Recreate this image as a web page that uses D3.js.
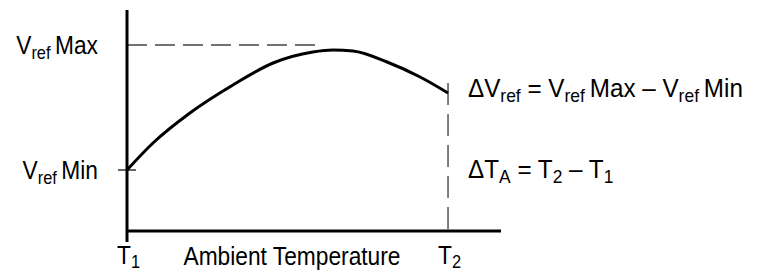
<!DOCTYPE html>
<html>
<head>
<meta charset="utf-8">
<script src="https://cdn.jsdelivr.net/npm/d3@7"></script>
<style>
  html, body { margin: 0; padding: 0; background: #fff; }
  svg { display: block; font-family: "Liberation Sans", Arial, Helvetica, sans-serif; }
</style>
</head>
<body>
<svg id="chart"></svg>
<script>
// curve: temperature in % of (T2 - T1), Vref in units of (Max - Min)
const tempPts = [0, 8.1, 19.6, 33, 45.5, 57.9, 64.2, 70.4, 81, 91.3, 100];
const vrefPts = [0, 0.216, 0.456, 0.68, 0.856, 0.944, 0.96, 0.952, 0.864, 0.744, 0.616];
const tempMarks = [{ v: 0, sub: "1" }, { v: 100, sub: "2" }];
const vrefMarks = [{ v: 0, name: "Min" }, { v: 1, name: "Max" }];
const xLabel = "Ambient Temperature";

const width = 760, height = 273;
const svg = d3.select("#chart").attr("width", width).attr("height", height);

const x = d3.scaleLinear().domain([0, 116.5]).range([127, 501]);
const y = d3.scaleLinear().domain([-0.488, 1.28]).range([231, 10]);

const fs = 25, subFs = 18, squeeze = 0.91;

// dashed guides
svg.append("line")
  .attr("x1", x(0)).attr("x2", 322)
  .attr("y1", y(1)).attr("y2", y(1))
  .attr("stroke", "#444").attr("stroke-width", 1.5)
  .attr("stroke-dasharray", "20,8");
svg.append("line")
  .attr("x1", x(100)).attr("x2", x(100))
  .attr("y1", y(vrefPts[vrefPts.length - 1]) - 10).attr("y2", y(-0.488))
  .attr("stroke", "#555").attr("stroke-width", 1.5)
  .attr("stroke-dasharray", "22,9");

// Vref Min tick
svg.append("line")
  .attr("x1", x(0) - 9).attr("x2", x(0) + 9)
  .attr("y1", y(0)).attr("y2", y(0))
  .attr("stroke", "#000").attr("stroke-width", 1.2);

// axes
svg.append("line")
  .attr("x1", x(0)).attr("x2", x(0))
  .attr("y1", y(1.28)).attr("y2", y(-0.488) + 11)
  .attr("stroke", "#000").attr("stroke-width", 3);
svg.append("line")
  .attr("x1", x(0)).attr("x2", x(116.5))
  .attr("y1", y(-0.488)).attr("y2", y(-0.488))
  .attr("stroke", "#000").attr("stroke-width", 3);

// curve
const line = d3.line()
  .x((d, i) => x(tempPts[i]))
  .y(d => y(d))
  .curve(d3.curveMonotoneX);
svg.append("path")
  .datum(vrefPts)
  .attr("d", line)
  .attr("fill", "none")
  .attr("stroke", "#000")
  .attr("stroke-width", 3);

// text placed at (px, py), slightly narrowed like the original face
function label(px, py, anchor, sq) {
  return svg.append("text")
    .attr("transform", `translate(${px},${py}) scale(${sq || squeeze},1)`)
    .attr("text-anchor", anchor || "start")
    .attr("font-size", fs);
}
function richText(sel, parts, subDy) {
  const d = subDy || 5;
  parts.forEach(p => {
    const t = sel.append("tspan").text(p[0]);
    if (p[1] === "sub") t.attr("font-size", subFs).attr("dy", d);
    else if (p[1] === "up") t.attr("dy", -d);
  });
}

// y labels
vrefMarks.forEach(m => {
  richText(label(x(0) - 29, y(m.v) + 9, "end"),
    [["V"], ["ref", "sub"], ["\u2009" + m.name, "up"]]);
});

// x labels
tempMarks.forEach(m => {
  richText(label(x(m.v) - 10, 264), [["T"], [m.sub, "sub"]], 4);
});
label(292, 265, "middle").text(xLabel);

// annotations
richText(label(468, 97, "start", 0.97),
  [["\u0394V"], ["ref", "sub"], [" = V", "up"], ["ref", "sub"], ["\u2009Max \u2013 V", "up"], ["ref", "sub"], ["\u2009Min", "up"]]);
richText(label(468, 178, "start", 0.97),
  [["\u0394T"], ["A", "sub"], [" = T", "up"], ["2", "sub"], [" \u2013 T", "up"], ["1", "sub"]]);
</script>
</body>
</html>
